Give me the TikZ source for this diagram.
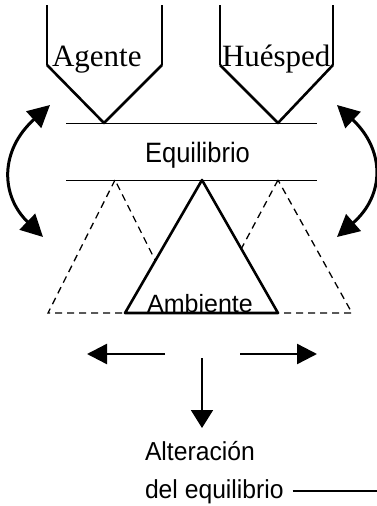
\documentclass[tikz,border=0pt]{standalone}
\usepackage{fontspec}
\setmainfont{Liberation Sans}
\newfontfamily\agentserif{Liberation Serif}
\usetikzlibrary{arrows.meta}
\tikzset{
  thinline/.style={line width=1.3pt},
  thickline/.style={line width=2.6pt, line join=round},
  hline/.style={line width=1pt},
  dashtri/.style={line width=1.3pt, dash pattern=on 7pt off 5pt},
  soltri/.style={line width=2.6pt, line join=round, fill=white},
  curvearrow/.style={line width=3pt, {Triangle[length=22pt,width=22pt]}-{Triangle[length=22pt,width=22pt]}},
  harrow/.style={line width=2.4pt, -{Triangle[length=20pt,width=20pt]}},
  varrow/.style={line width=1.8pt, -{Triangle[length=18pt,width=22pt]}},
  serlbl/.style={inner sep=0pt, outer sep=0pt, font=\agentserif\fontsize{31}{33}\selectfont},
  sanlbl/.style={inner sep=0pt, outer sep=0pt, font=\fontsize{28}{30}\selectfont},
  amblbl/.style={inner sep=0pt, outer sep=0pt, font=\fontsize{25}{27}\selectfont},
  botlbl/.style={inner sep=0pt, outer sep=0pt, font=\fontsize{26}{28}\selectfont},
}
\begin{document}
\begin{tikzpicture}[x=1pt,y=-1pt]
\useasboundingbox (0,0) rectangle (377,506);
% Agente funnel
\coordinate (a1) at (47,5);
\coordinate (a2) at (47,65);
\coordinate (aA) at (104,123);
\coordinate (a3) at (162,65);
\coordinate (a4) at (162,5);
% Huesped funnel
\coordinate (h1) at (220,5);
\coordinate (h2) at (220,65);
\coordinate (hA) at (278,123);
\coordinate (h3) at (333,65);
\coordinate (h4) at (333,5);
\draw[thinline] (a1) -- (a2);
\draw[thinline] (a3) -- (a4);
\draw[thickline] (a2) -- (aA) -- (a3);
\draw[thinline] (h1) -- (h2);
\draw[thinline] (h3) -- (h4);
\draw[thickline] (h2) -- (hA) -- (h3);
\node[serlbl, anchor=base west] (agente) at (52,66) {Agente};
\node[serlbl, anchor=base west] (huesped) at (222,66) {Huésped};
% equilibrium lines
\coordinate (l1a) at (66,123);
\coordinate (l1b) at (317,123);
\coordinate (l2a) at (66,180);
\coordinate (l2b) at (317,180);
\draw[hline] (l1a) -- (l1b);
\draw[hline] (l2a) -- (l2b);
\node[sanlbl, anchor=base] (equilibrio) at (197.5,162) {\scalebox{0.91}[1]{Equilibrio}};
% dashed triangles
\coordinate (dl1) at (115,180);
\coordinate (dl2) at (48,313);
\coordinate (dl3) at (181.5,313);
\coordinate (dr1) at (278,180);
\coordinate (dr2) at (207,313);
\coordinate (dr3) at (352,313);
\draw[dashtri] (dl1) -- (dl2) -- (dl3) -- cycle;
\draw[dashtri] (dr1) -- (dr2) -- (dr3) -- cycle;
% solid triangle
\coordinate (s1) at (202,180);
\coordinate (s2) at (125,313);
\coordinate (s3) at (278,313);
\filldraw[soltri] (s1) -- (s2) -- (s3) -- cycle;
\node[amblbl, anchor=base] (ambiente) at (200,312) {Ambiente};
% curved arrows
\coordinate (cl1) at (50,105);
\coordinate (cl2) at (43,237);
\coordinate (cr1) at (337,105);
\coordinate (cr2) at (337,237);
\draw[curvearrow] (cl1) .. controls (0,150) and (0,195) .. (cl2);
\draw[curvearrow] (cr1) .. controls (385,150) and (385,195) .. (cr2);
% bottom arrows
\coordinate (bl0) at (165,354);
\coordinate (bl1) at (87,354);
\coordinate (br0) at (240,354);
\coordinate (br1) at (317,354);
\coordinate (bd0) at (202,358);
\coordinate (bd1) at (202,428);
\draw[harrow] (bl0) -- (bl1);
\draw[harrow] (br0) -- (br1);
\draw[varrow] (bd0) -- (bd1);
% bottom label
\node[botlbl, anchor=base west] (alteracion) at (145,460) {\scalebox{0.95}[1]{Alteración}};
\node[botlbl, anchor=base west] (delequil) at (145,498) {\scalebox{0.95}[1]{del equilibrio}};
\coordinate (linend) at (377,491);
\draw[line width=1.2pt] ([xshift=9pt]delequil.east |- linend) -- (linend);
\end{tikzpicture}
\end{document}
